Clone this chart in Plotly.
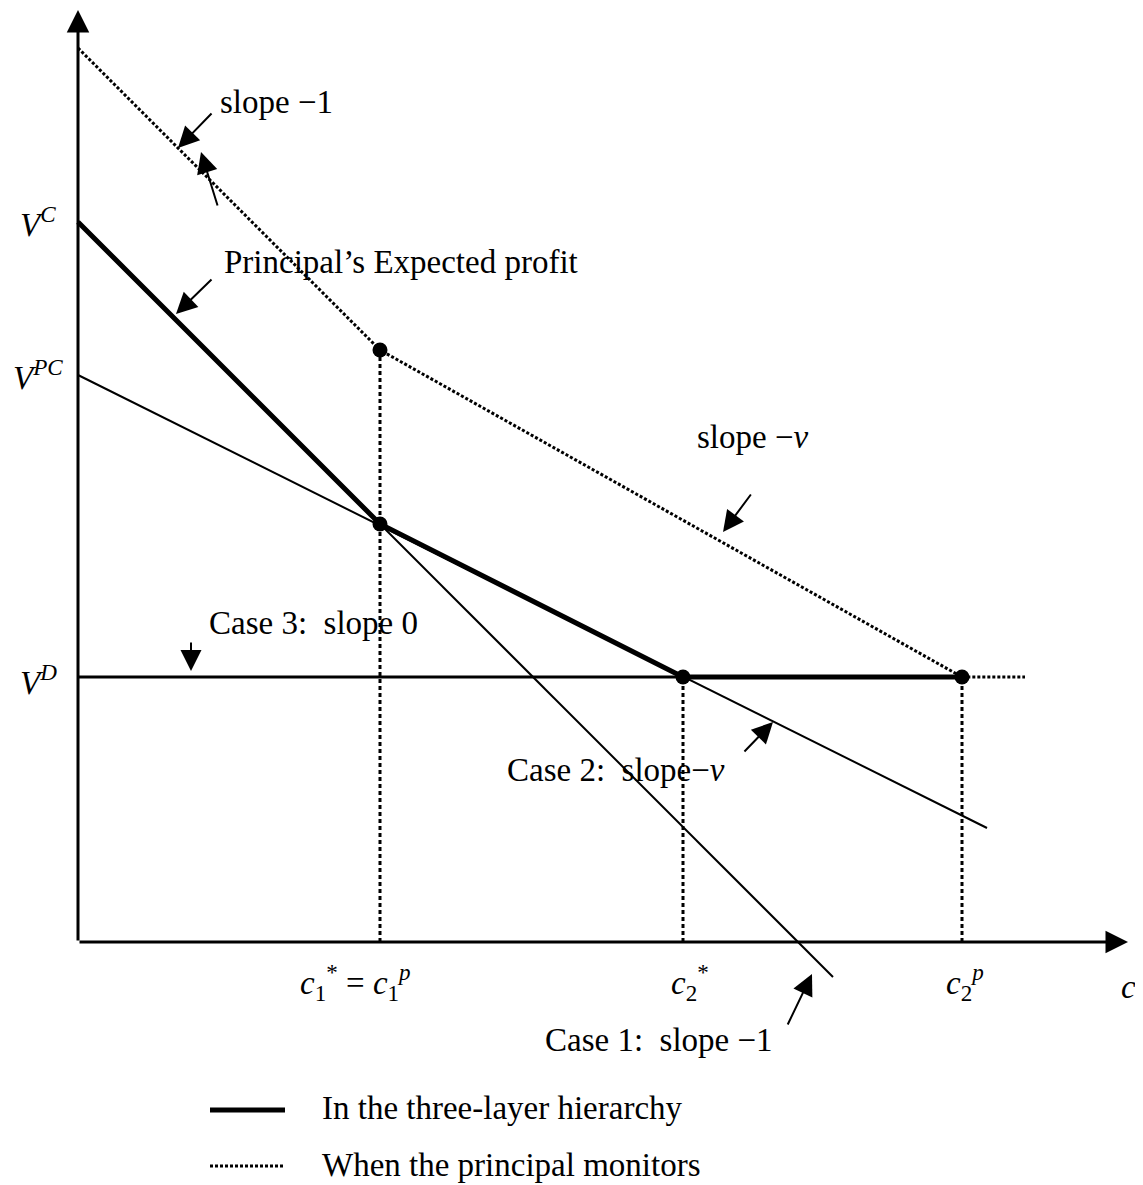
import plotly.graph_objects as go

# --- values (1 unit = 100 px) ---
c1 = 3.02        # c1* = c1^p
c2 = 6.05        # c2*
c2p = 8.84       # c2^p
c_end = 9.47     # where the flat parts stop

V_top = 8.94     # intercept of the "principal monitors" curve
V_C = 7.20
V_PC = 5.67
V_D = 2.65

# three-layer hierarchy (thick)
hier_c = [0, c1, c2, c2p]
hier_v = [V_C, V_C - c1, V_D, V_D]

# principal monitors (dotted)
mon_c = [0, c1, c2p, c_end]
mon_v = [V_top, V_top - c1, V_D, V_D]

# case lines (thin)
case1_c = [0, 7.55]
case1_v = [V_C, V_C - 7.55]
case2_c = [0, 9.09]
case2_v = [V_PC, 1.14]
case3_c = [0, c2]
case3_v = [V_D, V_D]

dots_c = [c1, c1, c2, c2p]
dots_v = [V_top - c1, V_C - c1, V_D, V_D]

FONT = "Liberation Serif"
FS = 33

fig = go.Figure()


def line(x, y, width, dash="solid"):
    fig.add_trace(go.Scatter(x=x, y=y, mode="lines", hoverinfo="skip",
                             line=dict(color="black", width=width, dash=dash)))


# vertical drop lines
for cx, top in zip([c1, c2, c2p], [V_top - c1, V_D, V_D]):
    line([cx, cx], [0, top], 3, "4px,3px")

line(case1_c, case1_v, 2)
line(case2_c, case2_v, 2)
line(case3_c, case3_v, 3)
line(mon_c, mon_v, 3, "3px,2px")
line(hier_c, hier_v, 5)

fig.add_trace(go.Scatter(x=dots_c, y=dots_v, mode="markers", hoverinfo="skip",
                         marker=dict(color="black", size=15)))

# legend samples
line([1.32, 2.07], [-1.68, -1.68], 5)
line([1.32, 2.07], [-2.24, -2.24], 3, "3px,2px")

anns = []


def text(x, y, s, xanchor="left", size=FS):
    anns.append(dict(x=x, y=y, text=s, showarrow=False, xanchor=xanchor,
                     yanchor="middle", font=dict(family=FONT, size=size, color="black")))


def arrow(x, y, ax, ay, width=2, size=2.1):
    anns.append(dict(x=x, y=y, ax=ax, ay=ay, axref="x", ayref="y", text="",
                     showarrow=True, arrowhead=2, arrowsize=size,
                     arrowwidth=width, arrowcolor="black", standoff=0))


# axes
arrow(0, 9.32, 0, 0, width=3, size=1.5)
arrow(10.50, 0, 0, 0, width=3, size=1.5)

text(-0.40, V_C, "<i>V</i><sup><i>C</i></sup>", "center")
text(-0.40, V_PC, "<i>V</i><sup><i>PC</i></sup>", "center")
text(-0.40, V_D - 0.03, "<i>V</i><sup><i>D</i></sup>", "center")

text(1.40, 8.40, "slope \u22121")
text(1.44, 6.80, "Principal\u2019s Expected profit")
text(6.17, 5.05, "slope \u2212<i>\u03bd</i>")
text(1.29, 3.19, "Case 3:  slope 0")
text(4.27, 1.72, "Case 2:  slope\u2212<i>\u03bd</i>")
text(4.65, -0.98, "Case 1:  slope \u22121")

text(2.77, -0.40, "<i>c</i><sub>1</sub><sup>*</sup> = <i>c</i><sub>1</sub><sup><i>p</i></sup>", "center")
text(6.12, -0.40, "<i>c</i><sub>2</sub><sup>*</sup>", "center")
text(8.87, -0.40, "<i>c</i><sub>2</sub><sup><i>p</i></sup>", "center")
text(10.50, -0.45, "<i>c</i>", "center")

text(2.42, -1.66, "In the three-layer hierarchy")
text(2.42, -2.23, "When the principal monitors")

arrow(1.00, 7.94, 1.35, 8.30)
arrow(1.23, 7.90, 1.40, 7.35)
arrow(0.98, 6.28, 1.35, 6.64)
arrow(6.45, 4.10, 6.74, 4.49)
arrow(1.13, 2.71, 1.13, 3.01)
arrow(6.95, 2.20, 6.65, 1.89)
arrow(7.34, -0.32, 7.09, -0.84)

# the page body adds an 8px margin, so the figure is 8px smaller and the
# ranges are set so that the origin lands at (78, 942) on the page
fig.update_layout(
    width=1135, height=1177,
    margin=dict(l=0, r=0, t=0, b=0),
    showlegend=False,
    plot_bgcolor="white", paper_bgcolor="white",
    xaxis=dict(range=[-0.70, 10.65], visible=False, fixedrange=True),
    yaxis=dict(range=[-2.43, 9.34], visible=False, fixedrange=True),
    annotations=anns,
)

fig.write_html("out.html")
